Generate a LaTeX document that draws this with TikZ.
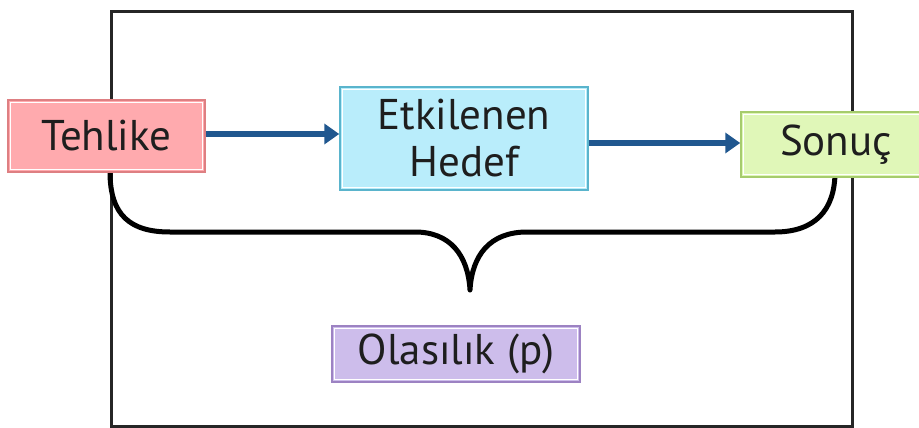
\documentclass[tikz,border=0pt]{standalone}
\usepackage{fontspec}
\setmainfont{PT Sans}
\usetikzlibrary{arrows.meta,calc}
\definecolor{pinkfill}{HTML}{FFAAAE}
\definecolor{pinkline}{HTML}{DE7F82}
\definecolor{bluefill}{HTML}{B9EDFB}
\definecolor{blueline}{HTML}{5AB4CC}
\definecolor{greenfill}{HTML}{E0F7B8}
\definecolor{greenline}{HTML}{A6CC6C}
\definecolor{purpfill}{HTML}{CDBDEB}
\definecolor{purpline}{HTML}{9C82C2}
\definecolor{arrowblue}{HTML}{20578F}
\definecolor{txt}{HTML}{1E1E1E}
\tikzset{
  box/.style={draw, line width=1.5pt, inner sep=0pt, align=center, text=txt,
    font=\fontsize{43}{47}\selectfont},
  inner/.style={draw=white, line width=1.3pt},
  flow/.style={draw=arrowblue, line width=6.5pt, -{Triangle[length=15pt,width=20pt]}},
  brace/.style={draw=black, line width=5pt, line cap=round, line join=round},
  frame/.style={draw=black!85, line width=3pt}
}
\newcommand{\innerline}[1]{\draw[inner] ($(#1.north west)+(3.5pt,-3.5pt)$) rectangle ($(#1.south east)+(-3.5pt,3.5pt)$);}
\begin{document}
\begin{tikzpicture}[x=1pt,y=-1pt]
\useasboundingbox (0,0) rectangle (919,428);
\clip (0,0) rectangle (919,428);
\draw[frame] (111,12) rectangle (852,426);
\draw[brace] (110,172) .. controls (110,215) and (130,232) .. (170,232)
  -- (415,232) .. controls (450,232) and (468,255) .. (470,290)
  .. controls (472,255) and (490,232) .. (527,232)
  -- (775,232) .. controls (815,232) and (835,210) .. (835,172);
\node[box, draw=pinkline, fill=pinkfill, minimum width=197pt, minimum height=72pt] (teh) at (106.5,136) {Tehlike};
\node[box, draw=blueline, fill=bluefill, minimum width=248pt, minimum height=103pt] (etk) at (464,138.5) {Etkilenen\\Hedef};
\node[box, draw=greenline, fill=greenfill, minimum width=190pt, minimum height=65pt] (son) at (836,144.5) {Sonuç};
\node[box, draw=purpline, fill=purpfill, minimum width=248pt, minimum height=56pt] (ola) at (456,354) {Olasılık (p)};
\innerline{teh}
\innerline{etk}
\innerline{son}
\innerline{ola}
\draw[flow] (teh.east |- 0,134) -- (etk.west |- 0,134);
\draw[flow] (etk.east |- 0,143) -- (son.west |- 0,143);
\end{tikzpicture}
\end{document}
